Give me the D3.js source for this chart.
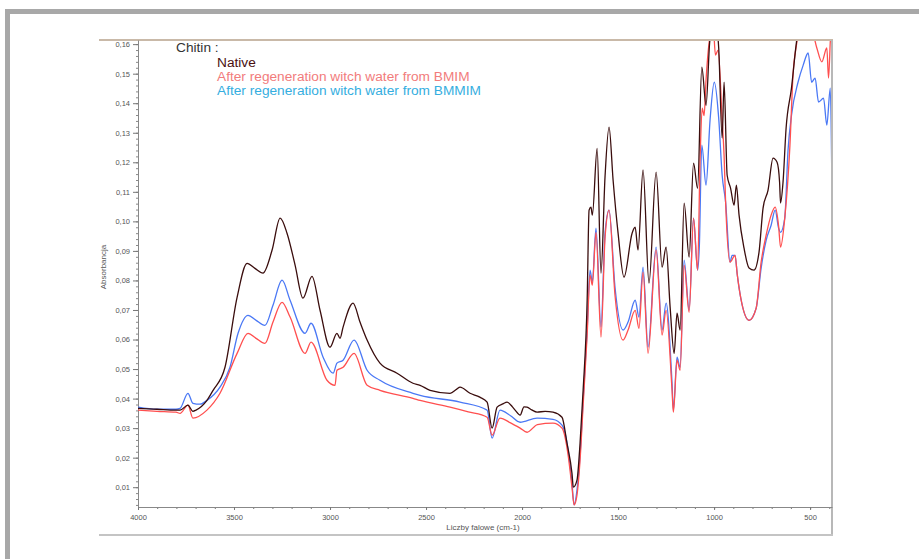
<!DOCTYPE html>
<html>
<head>
<meta charset="utf-8">
<script src="https://cdn.jsdelivr.net/npm/d3@7"></script>
<style>
  body { margin: 0; background: #fff; }
  svg { display: block; font-family: "Liberation Sans", Arial, sans-serif; }
  .tick text { fill: #555; }
</style>
</head>
<body>
<div id="chart"></div>
<script>
// spectra: [wavenumber cm-1, absorbance]
var nativeSpec = [
  [4000,0.0367],[3901,0.0364],[3802,0.0361],[3781,0.0361],[3740,0.0378],[3714,0.0357],[3698,0.0361],[3641,0.0394],
  [3609,0.0428],[3547,0.0506],[3484,0.0743],[3432,0.0858],[3391,0.0841],[3349,0.0825],[3302,0.0902],[3260,0.1011],
  [3224,0.096],[3182,0.0852],[3141,0.074],[3094,0.0814],[3052,0.0699],[3000,0.0574],[2964,0.0621],[2948,0.0604],
  [2932,0.0642],[2880,0.0723],[2844,0.0659],[2807,0.0598],[2740,0.052],[2651,0.0486],[2568,0.0452],[2531,0.0445],
  [2479,0.0428],[2375,0.0418],[2340,0.0432],[2323,0.0439],[2271,0.0418],[2220,0.0405],[2182,0.0388],[2156,0.030],
  [2130,0.0371],[2100,0.0382],[2078,0.0388],[2050,0.0372],[2036,0.0361],[2010,0.0344],[1990,0.0372],[1974,0.0371],
  [1950,0.0362],[1922,0.0354],[1880,0.0357],[1839,0.0354],[1792,0.0337],[1766,0.0249],[1740,0.0147],
  [1733,0.010],[1714,0.0124],[1698,0.0249],[1682,0.0428],[1661,0.0733],[1651,0.1038],[1641,0.1048],[1634,0.1021],
  [1609,0.1247],[1589,0.0825],[1568,0.115],[1547,0.1319],[1526,0.114],[1500,0.096],[1469,0.0811],[1427,0.096],
  [1411,0.098],[1396,0.0903],[1370,0.1174],[1339,0.0791],[1302,0.1167],[1271,0.0845],[1250,0.0913],[1229,0.071],
  [1208,0.0553],[1193,0.0689],[1177,0.0632],[1156,0.1062],[1130,0.0879],[1107,0.1197],[1086,0.1112],[1064,0.1522],
  [1042,0.1393],[1023,0.1607],[1010,0.1665],[990,0.1665],[976,0.1587],[958,0.1282],[948,0.1471],[932,0.1156],
  [914,0.1112],[896,0.1055],[884,0.1123],[870,0.1021],[844,0.0909],[818,0.0842],[792,0.0835],[766,0.0896],
  [745,0.1045],[719,0.1106],[693,0.1214],[672,0.12],[659,0.1133],[654,0.1062],[641,0.1133],[625,0.1316],
  [597,0.1451],[571,0.1607],[552,0.168],[500,0.175],[450,0.175],[386,0.175]
];
var bmimSpec = [
  [4000,0.0361],[3901,0.0357],[3802,0.0354],[3781,0.035],[3740,0.0378],[3714,0.0334],[3641,0.0361],[3573,0.0418],
  [3484,0.0553],[3427,0.0621],[3385,0.0604],[3339,0.0587],[3297,0.0659],[3250,0.0726],[3208,0.0676],[3130,0.0553],
  [3099,0.0591],[3016,0.0462],[2974,0.0445],[2964,0.0496],[2932,0.0506],[2875,0.0553],[2807,0.0445],[2740,0.0428],
  [2568,0.0401],[2531,0.0394],[2375,0.0371],[2280,0.0355],[2182,0.0337],[2156,0.0276],[2115,0.0334],[2060,0.0318],
  [2010,0.030],[1974,0.0286],[1920,0.0312],[1839,0.0317],[1792,0.030],[1760,0.0208],[1740,0.010],[1729,0.004],[1714,0.0073],[1698,0.0191],[1682,0.0378],
  [1661,0.0615],[1646,0.0818],[1634,0.0784],[1615,0.0963],[1589,0.0608],[1568,0.0943],[1547,0.1038],[1516,0.075],
  [1474,0.0598],[1448,0.0632],[1411,0.0699],[1391,0.0638],[1370,0.0828],[1344,0.0553],[1302,0.0903],[1271,0.0615],
  [1250,0.0699],[1219,0.0428],[1212,0.0354],[1193,0.053],[1177,0.0496],[1156,0.0852],[1130,0.0692],[1107,0.1011],
  [1086,0.0835],[1073,0.1209],[1062,0.1383],[1052,0.1358],[1042,0.1478],[1021,0.163],[1005,0.1665],[993,0.1563],
  [979,0.158],[958,0.1343],[948,0.1224],[940,0.1065],[917,0.0862],[891,0.0885],[879,0.0818],[861,0.074],
  [818,0.0665],[781,0.0706],[755,0.0862],[729,0.0953],[703,0.1021],[682,0.1048],[664,0.0984],[654,0.0913],
  [632,0.1011],[605,0.1258],[589,0.1495],[571,0.1597],[552,0.1665],[500,0.1665],[465,0.1587],[439,0.154],
  [413,0.1587],[404,0.1485],[391,0.165],[386,0.1546]
];
var bmmimSpec = [
  [4000,0.0371],[3901,0.0364],[3802,0.0364],[3781,0.0367],[3740,0.0418],[3714,0.0384],[3677,0.0381],[3641,0.0394],
  [3573,0.0439],[3521,0.0506],[3479,0.0621],[3427,0.0682],[3385,0.0665],[3339,0.0648],[3297,0.0716],[3250,0.0801],
  [3208,0.0733],[3130,0.0621],[3099,0.0655],[3036,0.054],[2984,0.0486],[2964,0.052],[2932,0.053],[2875,0.0598],
  [2807,0.0496],[2740,0.0462],[2568,0.0418],[2531,0.0411],[2323,0.0388],[2182,0.0361],[2156,0.0266],[2115,0.0361],
  [2060,0.0342],[2010,0.032],[1922,0.0334],[1839,0.033],[1792,0.031],[1760,0.0225],[1740,0.0113],[1729,0.004],[1714,0.009],
  [1698,0.0208],[1682,0.0394],[1661,0.0632],[1646,0.0835],[1634,0.0794],[1615,0.0977],[1589,0.0642],[1568,0.096],
  [1547,0.1038],[1516,0.0777],[1474,0.0632],[1448,0.0659],[1411,0.0733],[1391,0.0676],[1370,0.0845],[1344,0.0574],
  [1302,0.0913],[1271,0.0632],[1250,0.0723],[1219,0.0452],[1212,0.0361],[1193,0.054],[1177,0.0506],[1156,0.0869],
  [1130,0.0699],[1107,0.1011],[1086,0.0835],[1077,0.0913],[1064,0.1258],[1042,0.1123],[1021,0.1343],[999,0.1471],
  [976,0.1349],[958,0.1156],[940,0.1065],[917,0.0862],[906,0.0885],[891,0.0885],[879,0.0818],[861,0.074],
  [818,0.0665],[781,0.0706],[755,0.0842],[729,0.0936],[703,0.0987],[682,0.1038],[664,0.0977],[654,0.0963],
  [632,0.1011],[615,0.1241],[597,0.1359],[563,0.1471],[536,0.1529],[510,0.157],[492,0.1471],[474,0.1485],
  [456,0.1404],[430,0.1417],[413,0.1326],[395,0.1451],[386,0.1089]
];

var xMajor = [4000, 3500, 3000, 2500, 2000, 1500, 1000, 500];
var yMajor = [0.01,0.02,0.03,0.04,0.05,0.06,0.07,0.08,0.09,0.10,0.11,0.12,0.13,0.14,0.15,0.16];
var legendTitle = "Chitin :";
var legendNames = ["Native", "After regeneration witch water from BMIM", "After regeneration witch water from BMMIM"];

var W = 919, H = 559;
var plot = {left: 138, right: 832, top: 40, bottom: 507};

var svg = d3.select("#chart").append("svg")
    .attr("width", W).attr("height", H);

// outer frame (grey bands)
svg.append("rect").attr("x", 5).attr("y", 9).attr("width", W - 5).attr("height", 5).attr("fill", "#a8a8a8");
svg.append("rect").attr("x", 5).attr("y", 9).attr("width", 5).attr("height", H - 9).attr("fill", "#a8a8a8");

// inner panel edges
svg.append("line").attr("x1", 99).attr("x2", 833).attr("y1", 40).attr("y2", 40)
    .attr("stroke", "#c9b9a8").attr("stroke-width", 2);
svg.append("line").attr("x1", 832).attr("x2", 832).attr("y1", 40).attr("y2", 536)
    .attr("stroke", "#b8b8b8").attr("stroke-width", 2);
svg.append("line").attr("x1", 99).attr("x2", 833).attr("y1", 535).attr("y2", 535)
    .attr("stroke", "#c4c4c4").attr("stroke-width", 2);

var x = d3.scaleLinear().domain([4000, 386]).range([plot.left, plot.right]);
var y = d3.scaleLinear().domain([0.0033, 0.1614]).range([plot.bottom, plot.top]);

svg.append("clipPath").attr("id", "clip")
  .append("rect")
    .attr("x", plot.left).attr("y", plot.top + 1)
    .attr("width", plot.right - plot.left - 1).attr("height", plot.bottom - plot.top - 1);

// axes
var fmtComma = function(d){ return d.toFixed(2).replace(".", ","); };

svg.append("g")
    .attr("transform", "translate(0," + plot.bottom + ")")
    .call(d3.axisBottom(x).tickValues(d3.range(4000, 399, -100)).tickSize(2).tickFormat(""))
    .call(function(g){ g.select(".domain").remove(); })
    .selectAll("line").attr("stroke", "#777");

svg.append("g")
    .attr("transform", "translate(0," + plot.bottom + ")")
    .call(d3.axisBottom(x).tickValues(xMajor).tickSize(3).tickSizeOuter(0).tickFormat(d3.format("d")))
    .call(function(g){
      g.select(".domain").attr("stroke", "#888");
      g.selectAll("line").attr("stroke", "#777");
      g.selectAll("text").attr("font-size", "7.5px").attr("dy", "0.9em");
    });

svg.append("g")
    .attr("transform", "translate(" + plot.left + ",0)")
    .call(d3.axisLeft(y).tickValues(d3.range(0.004, 0.1612, 0.002)).tickSize(2).tickFormat(""))
    .call(function(g){ g.select(".domain").remove(); })
    .selectAll("line").attr("stroke", "#888");

svg.append("g")
    .attr("transform", "translate(" + plot.left + ",0)")
    .call(d3.axisLeft(y).tickValues(yMajor).tickSize(5).tickSizeOuter(0).tickPadding(3).tickFormat(fmtComma))
    .call(function(g){
      g.select(".domain").attr("stroke", "#888");
      g.selectAll("line").attr("stroke", "#777");
      g.selectAll("text").attr("font-size", "7.5px");
    });

svg.append("text")
    .attr("x", 483).attr("y", 530)
    .attr("text-anchor", "middle")
    .attr("font-size", "8px").attr("fill", "#555")
    .text("Liczby falowe (cm-1)");

svg.append("text")
    .attr("transform", "translate(106,267) rotate(-90)")
    .attr("text-anchor", "middle")
    .attr("font-size", "8px").attr("fill", "#555")
    .text("Absorbancja");

// spectra
var line = d3.line()
    .x(function(d){ return x(d[0]); })
    .y(function(d){ return y(d[1]); })
    .curve(d3.curveMonotoneX);

var series = [
  {data: bmmimSpec, color: "#4a78f5"},
  {data: bmimSpec, color: "#ff4f4f"},
  {data: nativeSpec, color: "#3a0d0d"}
];

svg.append("g").attr("clip-path", "url(#clip)")
  .selectAll("path")
  .data(series)
  .enter()
    .append("path")
    .attr("d", function(d){ return line(d.data.slice().reverse()); })
    .attr("fill", "none")
    .attr("stroke", function(d){ return d.color; })
    .attr("stroke-width", 1.3)
    .attr("stroke-linejoin", "round");

// legend text
svg.append("text").attr("x", 176).attr("y", 52)
    .attr("font-size", "13.7px").attr("fill", "#333").text(legendTitle);

var legendColors = ["#4a1010", "#f27c7c", "#35aee0"];
svg.selectAll(".leg")
  .data(legendNames)
  .enter()
    .append("text")
    .attr("class", "leg")
    .attr("x", 217)
    .attr("y", function(d, i){ return 67 + i * 14; })
    .attr("font-size", "13.7px")
    .attr("fill", function(d, i){ return legendColors[i]; })
    .text(function(d){ return d; });
</script>
</body>
</html>
